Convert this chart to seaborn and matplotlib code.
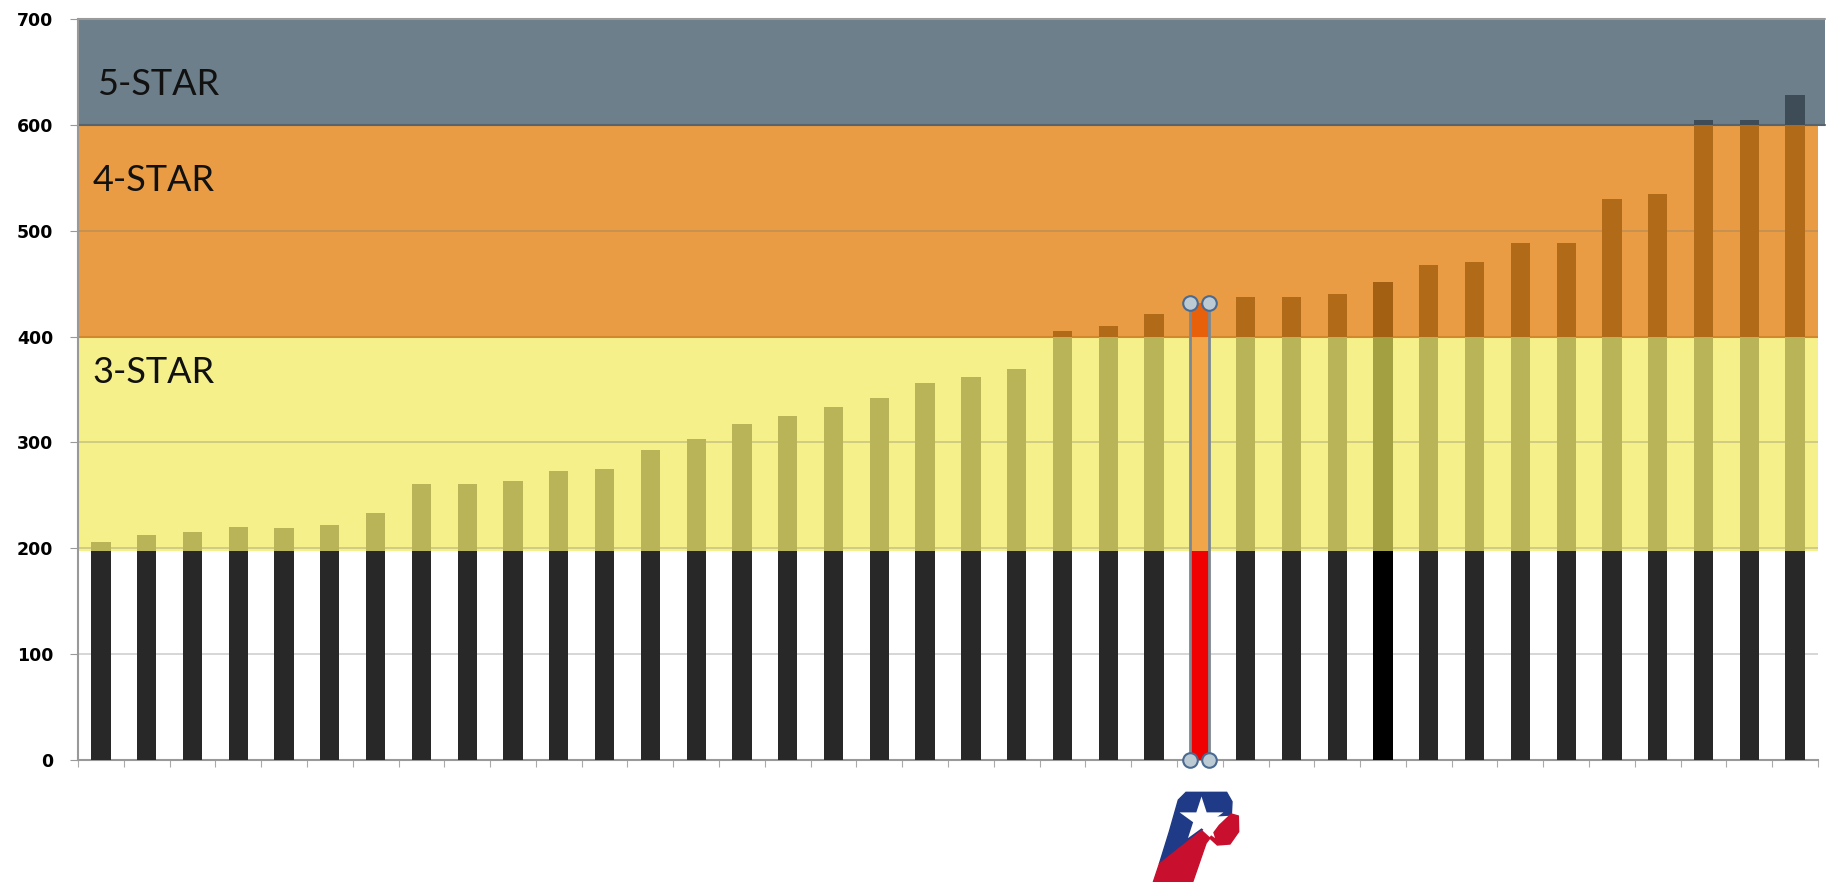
import numpy as np
import seaborn as sns
import matplotlib.pyplot as plt
from matplotlib.patches import Polygon

sns.set_style('white')
plt.rcParams['font.family'] = ['DejaVu Sans']

# 数据
scores = [206, 213, 215, 220, 219, 222, 233, 261, 261, 264, 273, 275, 293, 303,
          317, 325, 333, 342, 356, 362, 369, 405, 410, 421, 432, 437, 437, 440,
          452, 468, 470, 488, 488, 530, 535, 605, 605, 628]
highlight_idx = 24   # 红色高亮
black_idx = 28       # 纯黑柱
band_edges = [197, 400, 600, 700]
band_names = ['3-STAR', '4-STAR', '5-STAR']
band_label_y = [366, 547, 638]
yticks = [0, 100, 200, 300, 400, 500, 600, 700]

band_colors = ['#f5f08a', '#e99c44', '#6d7f8b']
n = len(scores)
idx = list(range(n))
vals = np.array(scores)

fig = plt.figure(figsize=(18.27, 8.82), dpi=100)
ax = fig.add_axes([78 / 1827, 122 / 882, 1740 / 1827, 741 / 882])

# 星级背景带
ax.axhspan(band_edges[0], band_edges[1], color=band_colors[0], zorder=0.5, lw=0)
ax.axhspan(band_edges[1], band_edges[2], color=band_colors[1], zorder=0.5, lw=0)
ax.axhspan(band_edges[2], band_edges[3], xmax=1.004, color=band_colors[2],
           zorder=0.5, lw=0, clip_on=False)
for y in yticks[1:-1]:
    ax.axhline(y, color='#777777', alpha=0.35, lw=1.2, zorder=0.8)
ax.axhline(400, color='#d4882e', lw=1.5, zorder=0.9)
ax.axhline(600, xmax=1.004, color='#55646e', lw=1.5, zorder=0.9, clip_on=False)
ax.axhline(700, xmax=1.004, color='#9a9a9a', lw=1.5, zorder=0.9, clip_on=False)


def pal(base, red, black):
    c = [base] * n
    c[highlight_idx] = red
    c[black_idx] = black
    return c


layers = [
    (vals, pal('#3e4c57', '#e8600a', '#3e4c57')),
    (np.minimum(vals, band_edges[2]), pal('#b06a18', '#e8600a', '#a35f12')),
    (np.minimum(vals, band_edges[1]), pal('#b9b457', '#f2a64a', '#a3a042')),
    (np.minimum(vals, band_edges[0]), pal('#282828', '#f00000', '#000000')),
]
for k, (v, colors) in enumerate(layers):
    sns.barplot(x=idx, y=v, hue=idx, palette=colors, legend=False, width=0.42,
                saturation=1, linewidth=0, ax=ax, zorder=2 + k)

# 选中柱的框线和手柄
hx = [highlight_idx - 0.21, highlight_idx + 0.21]
hv = scores[highlight_idx]
for x in hx:
    ax.plot([x, x], [0, hv], color='#7b8892', lw=2, zorder=7)
ax.scatter(hx + hx, [hv, hv, 0, 0], s=110, facecolor='#bccbd3',
           edgecolor='#4a6a92', lw=1.5, zorder=8, clip_on=False)

# 星级标签
for name, y in zip(band_names, band_label_y):
    ax.text(0.011 if name == '5-STAR' else 0.0085, y, name,
            transform=ax.get_yaxis_transform(), fontsize=26, family='Lato',
            va='center', ha='left', color='#111111', zorder=9)

ax.set_xlim(-0.5, n - 0.5)
ax.set_ylim(0, 700)
ax.set_yticks(yticks)
ax.set_yticklabels([str(t) for t in yticks], fontsize=12.5, fontweight='bold',
                   color='black')
ax.set_xticks(np.arange(-0.5, n, 1))
ax.set_xticklabels([])
ax.set_xlabel('')
ax.set_ylabel('')
ax.tick_params(axis='y', length=6, color='#999999', pad=12, left=True)
ax.tick_params(axis='x', length=5, color='#aaaaaa', bottom=True)
for s in ['top', 'right']:
    ax.spines[s].set_visible(False)
for s in ['left', 'bottom']:
    ax.spines[s].set_color('#999999')
    ax.spines[s].set_linewidth(1.5)

# 底部标志
lax = fig.add_axes([1150 / 1827, 0, 90 / 1827, 92 / 882])
lax.set_xlim(60, 330)
lax.set_ylim(366, 90)
lax.axis('off')
lax.add_patch(Polygon([(145, 120), (168, 97), (290, 97), (306, 125), (304, 165),
                       (250, 168), (215, 212), (88, 312), (118, 215)],
                      color='#1f3a86'))
lax.add_patch(Polygon([(88, 312), (215, 212), (262, 255), (300, 252), (326, 215),
                       (325, 168), (304, 162), (268, 196), (228, 250), (188, 366),
                       (70, 366)], color='#c8102e'))
lax.scatter([212], [178], marker='*', s=1100, color='white', lw=0, zorder=3)

fig.savefig('out.png', dpi=100)
